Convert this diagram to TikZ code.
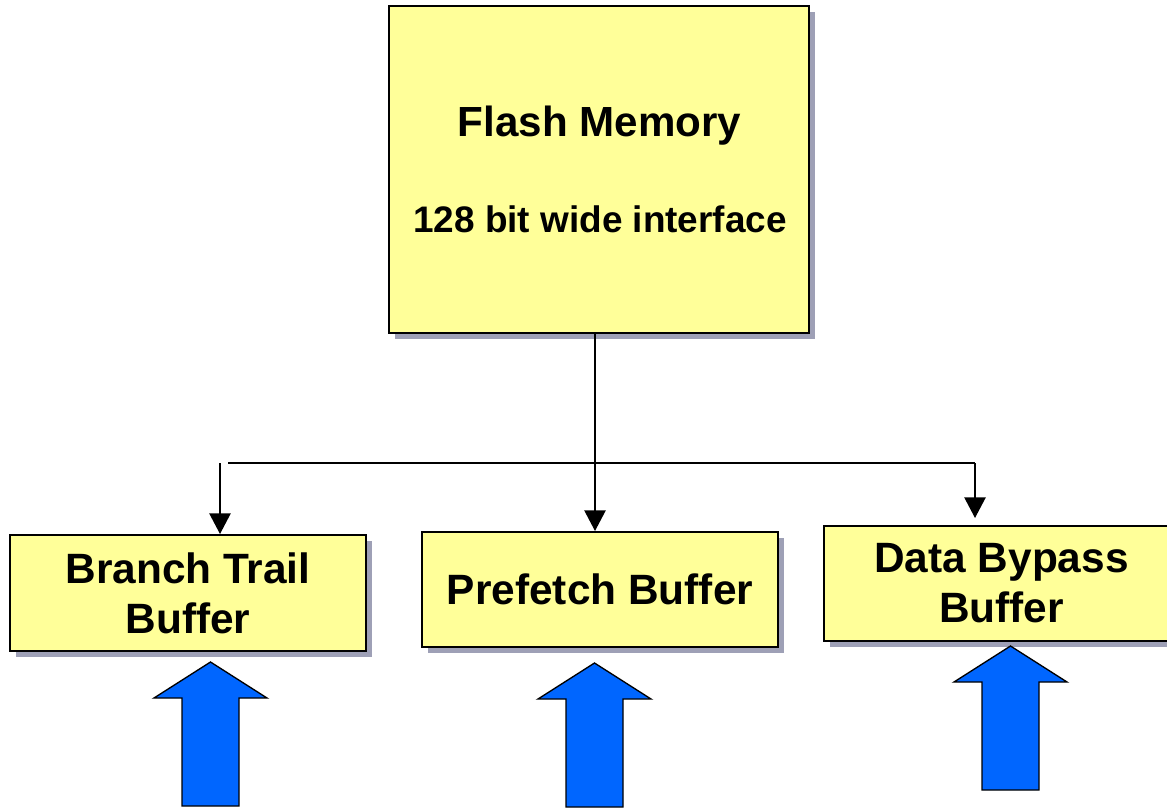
\documentclass[tikz,border=0pt]{standalone}
\usepackage{fontspec}
\setmainfont{Liberation Sans}
\usetikzlibrary{arrows.meta,shadows,calc}
\definecolor{boxfill}{RGB}{255,255,153}
\definecolor{boxshade}{RGB}{158,160,182}
\definecolor{pushblue}{RGB}{0,102,255}
\tikzset{
  unitbox/.style={draw=black, line width=1.5pt, fill=boxfill, inner sep=0pt,
    align=center, font=\bfseries\fontsize{31.8}{37.5}\selectfont,
    drop shadow={shadow xshift=4.5pt, shadow yshift=-4.5pt, fill=boxshade, opacity=1}},
  feed/.style={line width=1.1pt},
  feedarrow/.style={feed, -{Triangle[length=15.5pt,width=16pt]}},
  pics/pushup/.style={code={
    \draw[line width=1pt, fill=pushblue]
      (0,0) -- (56.5,36) -- (28.5,36) -- (28.5,144) -- (-28.5,144)
      -- (-28.5,36) -- (-56.5,36) -- cycle;}}
}
\begin{document}
\begin{tikzpicture}[x=0.75pt,y=-0.75pt]
\useasboundingbox (0,0) rectangle (1167,809);
\clip (0,0) rectangle (1167,809);

% flash array
\node[unitbox, minimum width=315pt, minimum height=245.25pt] (flash) at (599,169.5) {};
\node[anchor=base, font=\bfseries\fontsize{31.6}{37}\selectfont] (flashname) at (599.5,137) {Flash Memory};
\node[anchor=base, font=\bfseries\fontsize{27.7}{32}\selectfont] (flashwidth) at (600,233) {128 bit wide interface};

% buffers
\node[unitbox, minimum width=267pt, minimum height=87pt] (btb) at (188,593) {Branch Trail\\Buffer};
\node[unitbox, minimum width=267pt, minimum height=86.25pt] (pfb) at (600,589.5) {Prefetch Buffer};
\node[unitbox, minimum width=266.25pt, minimum height=86.25pt] (dbb) at (1001.5,583.5) {Data Bypass\\Buffer};

% distribution bus
\coordinate (bus) at (595,463);
\coordinate (busL) at (228,463);
\coordinate (dropL) at (220,463);
\coordinate (busR) at (975,463);

\draw[feedarrow] (flash.south -| bus) -- (bus |- pfb.north);
\draw[feed] (busL) -- (busR);
\draw[feedarrow] (busR) -- ($(busR |- dbb.north)+(0,-7)$);
\draw[feedarrow] (dropL) -- (dropL |- btb.north);

% incoming requests
\pic at (210.5,662) {pushup};
\pic at (594.5,663) {pushup};
\pic at (1010.5,646) {pushup};
\end{tikzpicture}
\end{document}
